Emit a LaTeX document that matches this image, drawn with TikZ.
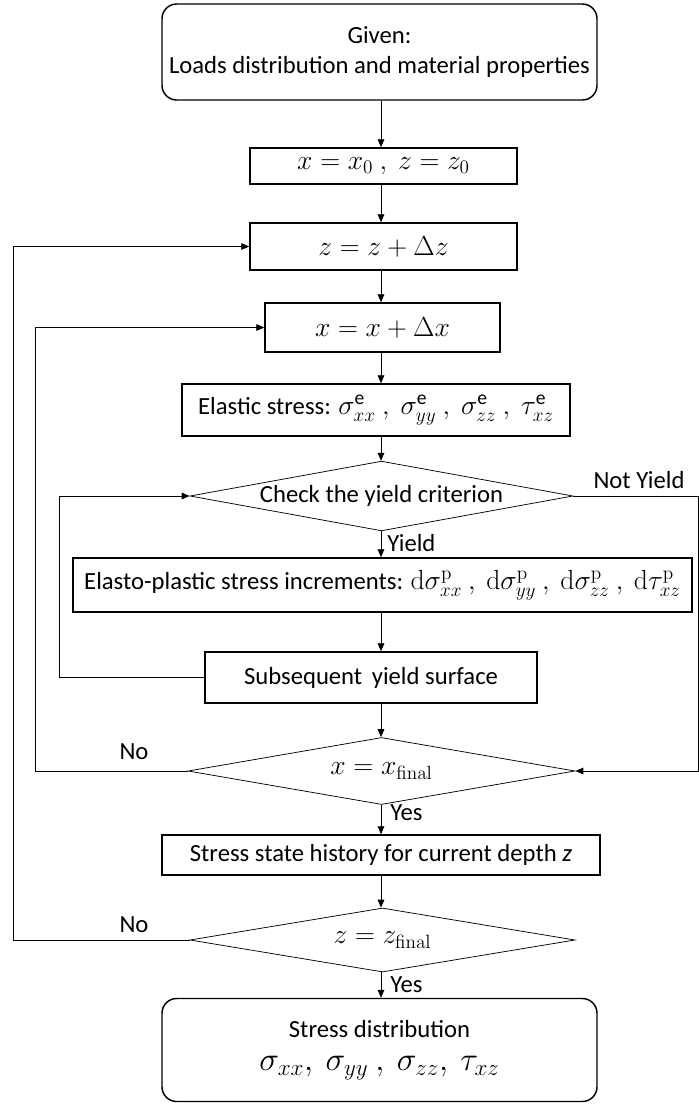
\documentclass[tikz,border=0pt]{standalone}
\usepackage{amsmath}
\usepackage[no-math]{fontspec}
\setmainfont{Carlito}
\usetikzlibrary{shapes.geometric,arrows.meta}
\newcommand\mth[1]{{\fontsize{21}{24}\selectfont$#1$}}
\newcommand\mths[1]{{\fontsize{20}{24}\selectfont$#1$}}
\tikzset{
  px/.style={x=0.75pt,y=-0.75pt},
  boxnode/.style={draw,line width=1.1pt,rectangle,inner sep=0pt,align=center,font=\fontsize{18.5}{22.5}\selectfont},
  roundnode/.style={boxnode,rounded corners=11pt},
  decision/.style={draw,line width=0.55pt,diamond,inner sep=0pt,aspect=5,align=center,font=\fontsize{18.5}{22.5}\selectfont},
  conn/.style={line width=0.7pt,-{Triangle[length=6pt,width=5pt]}},
  lbl/.style={inner sep=0pt,font=\fontsize{18.5}{22.5}\selectfont},
}
\begin{document}
\begin{tikzpicture}[px]
\useasboundingbox (0,0) rectangle (699,1104);
\coordinate (col) at (381,0);
\coordinate (L1) at (13,0);
\coordinate (L2) at (35,0);
\coordinate (L3) at (59,0);
\coordinate (R) at (698,0);

\node[roundnode,minimum width=435*0.75pt,minimum height=96*0.75pt] (top) at (379.5,52)
  {Given:\\Loads distribution and material properties};
\node[boxnode,minimum width=267*0.75pt,minimum height=36*0.75pt] (b2) at (383.5,166)
  {\mth{x = x_0\ ,\ z = z_0}};
\node[boxnode,minimum width=267*0.75pt,minimum height=47*0.75pt] (b3) at (383.5,246.5)
  {\mth{z = z + \Delta z}};
\node[boxnode,minimum width=235*0.75pt,minimum height=49*0.75pt] (b4) at (382.5,327.5)
  {\mth{x = x + \Delta x}};
\node[boxnode,minimum width=388*0.75pt,minimum height=52*0.75pt] (b5) at (376,410)
  {Elastic stress: \mth{\sigma^{\text{e}}_{xx}\ ,\ \sigma^{\text{e}}_{yy}\ ,\ \sigma^{\text{e}}_{zz}\ ,\ \tau^{\text{e}}_{xz}}};
\node[decision,minimum width=383*0.75pt,minimum height=66*0.75pt] (d1) at (381.5,496)
  {Check the yield criterion};
\node[boxnode,minimum width=619*0.75pt,minimum height=54*0.75pt] (b6) at (382.5,585)
  {Elasto-plastic stress increments: \mths{\mathrm{d}\sigma^{\mathrm{p}}_{xx}\ ,\ \mathrm{d}\sigma^{\mathrm{p}}_{yy}\ ,\ \mathrm{d}\sigma^{\mathrm{p}}_{zz}\ ,\ \mathrm{d}\tau^{\mathrm{p}}_{xz}}};
\node[boxnode,minimum width=332*0.75pt,minimum height=51*0.75pt] (b7) at (371,677.5)
  {Subsequent\, yield surface};
\node[decision,minimum width=387*0.75pt,minimum height=67*0.75pt] (d2) at (381.5,771)
  {\mth{x = x_{\mathrm{final}}}};
\node[boxnode,minimum width=438*0.75pt,minimum height=40*0.75pt] (b8) at (381,855)
  {Stress state history for current depth \textit{z}};
\node[decision,minimum width=385*0.75pt,minimum height=64*0.75pt] (d3) at (382.5,940)
  {\mth{z = z_{\mathrm{final}}}};
\node[roundnode,minimum width=435*0.75pt,minimum height=103*0.75pt] (bot) at (379.5,1050)
  {Stress distribution\\[2pt]{\fontsize{23}{26}\selectfont$\sigma_{xx},\ \sigma_{yy}\ ,\ \sigma_{zz},\ \tau_{xz}$}};

% main column arrows
\draw[conn] (top.south -| col) -- (b2.north -| col);
\draw[conn] (b2.south -| col) -- (b3.north -| col);
\draw[conn] (b3.south -| col) -- (b4.north -| col);
\draw[conn] (b4.south -| col) -- (b5.north -| col);
\draw[conn] (b5.south -| col) -- (d1.north -| col);
\draw[conn] (d1.south -| col) -- (b6.north -| col);
\draw[conn] (b6.south -| col) -- (b7.north -| col);
\draw[conn] (b7.south -| col) -- (d2.north -| col);
\draw[conn] (d2.south -| col) -- (b8.north -| col);
\draw[conn] (b8.south -| col) -- (d3.north -| col);
\draw[conn] (d3.south -| col) -- (bot.north -| col);

% loops
\draw[conn] (d3.west) -- (d3.west -| L1) |- (b3.west);
\draw[conn] (d2.west) -- (d2.west -| L2) |- (b4.west);
\draw[conn] (b7.west) -- (b7.west -| L3) |- (d1.west);
\draw[conn] (d1.east) -- (d1.east -| R) |- (d2.east);

% labels
\node[lbl,anchor=west] (ly) at (387,543) {Yield};
\node[lbl] (lny) at (639,480) {Not Yield};
\node[lbl] (lno1) at (134,752) {No};
\node[lbl,anchor=west] (lyes1) at (390,813) {Yes};
\node[lbl] (lno2) at (134,925) {No};
\node[lbl,anchor=west] (lyes2) at (390,985) {Yes};
\end{tikzpicture}
\end{document}
